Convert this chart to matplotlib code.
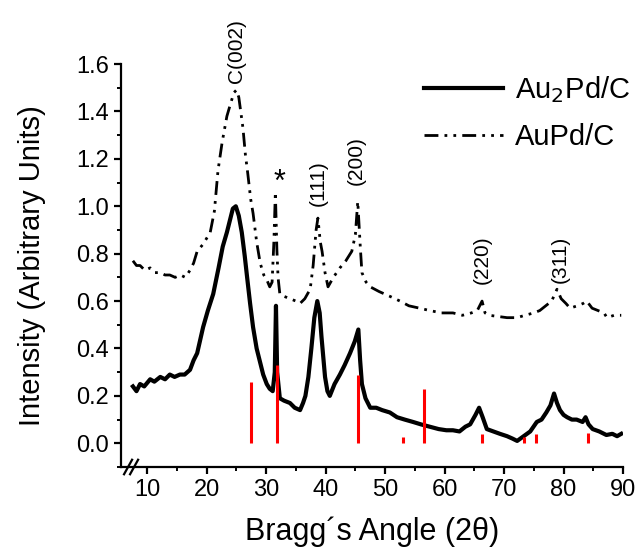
import matplotlib.pyplot as plt
from matplotlib.ticker import MultipleLocator

plt.rcParams['font.family'] = ['Liberation Sans', 'DejaVu Sans']

# Au2Pd/C pattern (solid)
x_au2pd = [7.6, 8.2, 8.8, 9.5, 10.5, 11.2, 12.2, 13.0, 13.8, 14.6, 15.5, 16.3, 17.2, 17.8,
           18.4, 19.4, 20.2, 21.1, 22.0, 22.7, 23.4, 23.9, 24.4, 24.9, 25.4, 25.9, 26.4,
           26.8, 27.3, 27.8, 28.4, 29.0, 29.5, 30.1, 30.6, 31.1, 31.45, 31.65, 31.85, 32.3,
           33.0, 34.0, 34.8, 35.7, 36.2, 36.6, 37.1, 37.6, 38.1, 38.6, 39.0, 39.3, 39.9,
           40.3, 40.7, 41.5, 42.4, 43.2, 44.1, 44.9, 45.5, 45.8, 46.1, 46.7, 47.5, 48.5,
           49.5, 50.8, 52.0, 53.3, 54.7, 56.0, 57.5, 59.0, 60.3, 61.4, 62.5, 63.5, 64.3,
           65.2, 65.8, 66.4, 67.1, 68.2, 69.3, 70.5, 71.4, 72.2, 73.3, 74.4, 75.5, 76.3,
           77.1, 77.8, 78.4, 78.9, 79.4, 80.0, 80.6, 81.4, 82.2, 83.2, 83.7, 84.2, 84.9,
           86.0, 87.2, 88.2, 89.0, 89.7]
y_au2pd = [0.24, 0.22, 0.25, 0.24, 0.27, 0.26, 0.28, 0.27, 0.29, 0.28, 0.29, 0.29, 0.31, 0.35,
           0.38, 0.49, 0.56, 0.63, 0.74, 0.83, 0.89, 0.94, 0.99, 1.00, 0.96, 0.89, 0.79,
           0.70, 0.59, 0.49, 0.40, 0.34, 0.29, 0.25, 0.23, 0.22, 0.30, 0.58, 0.30, 0.19,
           0.18, 0.17, 0.15, 0.14, 0.17, 0.20, 0.28, 0.40, 0.53, 0.60, 0.55, 0.45, 0.28,
           0.22, 0.20, 0.25, 0.29, 0.33, 0.38, 0.43, 0.48, 0.35, 0.25, 0.19, 0.15, 0.15,
           0.14, 0.13, 0.11, 0.10, 0.09, 0.08, 0.07, 0.06, 0.055, 0.055, 0.05, 0.07, 0.08,
           0.12, 0.15, 0.11, 0.06, 0.05, 0.04, 0.03, 0.02, 0.01, 0.03, 0.05, 0.09, 0.10,
           0.13, 0.16, 0.21, 0.17, 0.14, 0.12, 0.11, 0.10, 0.10, 0.09, 0.11, 0.08, 0.06,
           0.05, 0.035, 0.04, 0.03, 0.04]

# AuPd/C pattern (dash-dot-dot)
x_aupd = [7.6, 8.2, 8.8, 9.6, 10.5, 11.3, 12.2, 13.0, 13.8, 14.7, 15.6, 16.4, 17.2, 17.8,
          18.4, 19.4, 20.6, 21.3, 21.9, 22.6, 23.4, 24.1, 24.6, 25.0, 25.4, 26.1, 26.5,
          26.9, 27.4, 27.8, 28.4, 29.0, 29.6, 30.1, 30.6, 31.0, 31.3, 31.55, 31.8, 32.0,
          32.3, 33.0, 34.0, 35.0, 35.7, 36.5, 37.4, 37.9, 38.4, 38.7, 39.1, 39.4, 39.9,
          40.4, 41.3, 42.4, 43.4, 44.4, 45.0, 45.4, 45.8, 46.1, 46.8, 47.5, 49.0, 50.8,
          52.5, 54.0, 55.8, 57.5, 59.5, 61.4, 63.0, 64.5, 65.5, 66.3, 66.8, 67.5, 69.0,
          70.5, 72.2, 73.5, 75.0, 76.0, 77.0, 78.0, 78.9, 79.6, 80.4, 81.1, 82.3, 83.3,
          83.9, 84.8, 85.8, 86.8, 87.3, 88.5, 89.7]
y_aupd = [0.77, 0.75, 0.75, 0.73, 0.74, 0.72, 0.72, 0.71, 0.71, 0.70, 0.71, 0.70, 0.73, 0.76,
          0.81, 0.84, 0.89, 0.98, 1.15, 1.27, 1.38, 1.44, 1.48, 1.49, 1.46, 1.33, 1.22,
          1.14, 1.03, 0.97, 0.85, 0.76, 0.71, 0.69, 0.66, 0.68, 0.85, 1.06, 0.82, 0.70,
          0.63, 0.62, 0.61, 0.60, 0.59, 0.61, 0.65, 0.75, 0.90, 0.95, 0.85, 0.81, 0.72,
          0.66, 0.70, 0.74, 0.77, 0.81, 0.88, 1.02, 0.84, 0.72, 0.68, 0.66, 0.64, 0.62,
          0.60, 0.58, 0.57, 0.56, 0.55, 0.55, 0.54, 0.55, 0.56, 0.60, 0.55, 0.54, 0.535,
          0.53, 0.53, 0.54, 0.55, 0.56, 0.58, 0.60, 0.65, 0.61, 0.59, 0.57, 0.58, 0.59,
          0.60, 0.57, 0.56, 0.55, 0.53, 0.54, 0.54]

# reference stick pattern (red)
ref_pos = [27.4, 31.8, 45.5, 53.0, 56.5, 66.3, 73.4, 75.4, 84.1]
ref_int = [0.26, 0.33, 0.29, 0.025, 0.23, 0.04, 0.025, 0.04, 0.045]

# peak annotations
peak_labels = ['C(002)', '(111)', '(200)', '(220)', '(311)']
peak_x = [25.0, 38.7, 45.1, 66.4, 79.4]
peak_y = [1.52, 1.00, 1.09, 0.67, 0.675]

fig = plt.figure(figsize=(6.39, 5.5), dpi=100)
ax = fig.add_axes([0.1894, 0.1509, 0.7856, 0.7327])

ax.plot(x_au2pd, y_au2pd, color='black', linewidth=3.0, label='Au$_2$Pd/C')
ax.plot(x_aupd, y_aupd, color='black', linewidth=2.0, dashes=(5, 2.2, 1, 2.2, 1, 2.2),
        label='AuPd/C')
ax.vlines(ref_pos, 0, ref_int, color='#ff0000', linewidth=2.2)

for lab, px, py in zip(peak_labels, peak_x, peak_y):
    ax.text(px, py, lab, rotation=90, ha='center', va='bottom', fontsize=15)
ax.text(32.2, 1.10, '*', ha='center', va='center', fontsize=22)

ax.set_xlim(5.6, 90)
ax.set_ylim(-0.1, 1.6)
ax.xaxis.set_major_locator(MultipleLocator(10))
ax.xaxis.set_minor_locator(MultipleLocator(5))
ax.yaxis.set_major_locator(MultipleLocator(0.2))
ax.yaxis.set_minor_locator(MultipleLocator(0.1))
ax.yaxis.set_major_formatter(plt.FormatStrFormatter('%.1f'))

for side in ['top', 'right']:
    ax.spines[side].set_visible(False)
for side in ['left', 'bottom']:
    ax.spines[side].set_linewidth(1.6)
ax.tick_params(which='major', direction='out', length=5, width=1.6, labelsize=17)
ax.tick_params(which='minor', direction='out', length=3, width=1.4)

ax.set_xlabel('Bragg\u00b4s Angle (2\u03b8)', fontsize=22, labelpad=11)
ax.set_ylabel('Intensity (Arbitrary Units)', fontsize=21, labelpad=22)

# axis break marks
for bx in [0.014, 0.026]:
    ax.plot([bx - 0.008, bx + 0.008], [-0.018, 0.018], transform=ax.transAxes,
            color='black', linewidth=1.6, clip_on=False)

ax.legend(loc='upper left', bbox_to_anchor=(0.575, 1.01), frameon=False, fontsize=21,
          handlelength=2.7, handletextpad=0.4, labelspacing=0.6, borderpad=0)

plt.savefig('out.png', dpi=100)
